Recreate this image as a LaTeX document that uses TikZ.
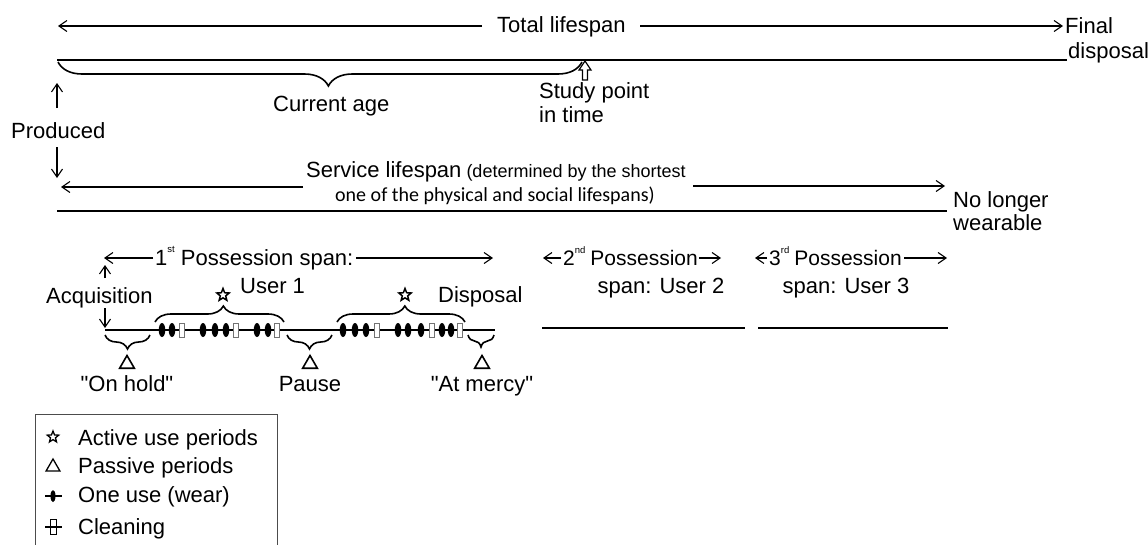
\documentclass[tikz,border=0pt]{standalone}
\usepackage{fontspec}
\setmainfont{Liberation Sans}[Ligatures=TeXOff]
\newfontfamily\carl{Carlito}
\usetikzlibrary{arrows.meta,decorations.pathreplacing,shapes.geometric}
\newcommand\myord[1]{\raisebox{0.55em}{\fontsize{9.5}{10}\selectfont #1}}
\begin{document}
\begin{tikzpicture}[x=1pt,y=-1pt,
  txt/.style={inner sep=0pt,anchor=base west,font=\fontsize{22}{25}\selectfont},
  ctxt/.style={inner sep=0pt,anchor=base,font=\fontsize{22}{25}\selectfont},
  arr/.style={line width=1.1pt,-{Straight Barb[length=8pt,width=11pt,line width=1.1pt]}},
  thickline/.style={line width=2.3pt},
  brc/.style={line width=1.6pt,decorate},
  starm/.style={star,star points=5,star point ratio=2.3,draw,line width=1.5pt,minimum size=13pt,inner sep=0pt},
  trim/.style={regular polygon,regular polygon sides=3,draw,line width=1.6pt,minimum size=17pt,inner sep=0pt},
  usem/.style={ellipse,fill=black,minimum width=6.5pt,minimum height=14pt,inner sep=0pt},
  cleanm/.style={rectangle,draw=black!55,fill=white,line width=0.9pt,minimum width=5pt,minimum height=14pt,inner sep=0pt}]
\useasboundingbox[fill=white] (0,0) rectangle (1148,544);

% ---------- Total lifespan ----------
\coordinate (tlL) at (58,26);
\coordinate (tlA) at (482,26);
\coordinate (tlB) at (640,26);
\coordinate (tlR) at (1063,26);
\draw[arr] (tlA) -- (tlL);
\draw[arr] (tlB) -- (tlR);
\node[txt] (total) at (497,32) {Total lifespan};
\node[txt] (final) at (1065,33) {Final};
\node[txt] (fdisp) at (1068,58) {disposal};

\coordinate (m0) at (57,60);
\coordinate (m1) at (1067,60);
\draw[thickline] (m0) -- (m1);

\coordinate (bA) at (58,62);
\coordinate (bB) at (582,62);
\draw[brc,decoration={brace,mirror,amplitude=24pt,aspect=0.516}] (bA) -- (bB);
\node[txt] (current) at (273,111) {Current age};

\draw[line width=1.2pt,fill=white] (585,61) -- (591,70) -- (587.5,70) -- (587.5,80) -- (582.5,80) -- (582.5,70) -- (579,70) -- cycle;
\node[txt] (study) at (539,98) {Study point};
\node[txt] (intime) at (539,122) {in time};

% ---------- Produced ----------
\node[txt] (produced) at (11,138) {Produced};
\coordinate (pu0) at (57,108);
\coordinate (pu1) at (57,83);
\coordinate (pd0) at (57,147);
\coordinate (pd1) at (57,178);
\draw[arr] (pu0) -- (pu1);
\draw[arr] (pd0) -- (pd1);

% ---------- Service lifespan ----------
\node[txt] (service) at (306,177) {Service lifespan{\fontsize{18}{20}\selectfont{} (determined by the shortest}};
\node[txt,font=\carl\fontsize{20}{22}\selectfont] (oneof) at (335,201) {one of the physical and social lifespans)};
\coordinate (sA) at (303,187);
\coordinate (sL) at (61,187);
\coordinate (sB) at (693,186);
\coordinate (sR) at (945,186);
\draw[arr] (sA) -- (sL);
\draw[arr] (sB) -- (sR);
\coordinate (s0) at (57,211);
\coordinate (s1) at (947,211);
\draw[thickline] (s0) -- (s1);
\node[txt] (nolonger) at (953,207) {No longer};
\node[txt] (wearable) at (953,230) {wearable};

% ---------- 1st possession ----------
\node[txt] (poss1) at (155,265) {1\myord{st} Possession span:};
\coordinate (p1A) at (153,258);
\coordinate (p1L) at (104,258);
\coordinate (p1B) at (356,258);
\coordinate (p1R) at (493,258);
\draw[arr] (p1A) -- (p1L);
\draw[arr] (p1B) -- (p1R);

\node[txt] (acq) at (46,303) {Acquisition};
\coordinate (aq0) at (105,278);
\coordinate (aq1) at (105,265);
\coordinate (aq2) at (105,308);
\coordinate (aq3) at (105,328);
\draw[arr] (aq0) -- (aq1);
\draw[arr] (aq2) -- (aq3);

\node[txt] (user1) at (240,293) {User 1};
\node[txt] (disp) at (438,302) {Disposal};

\coordinate (l0) at (105,330);
\coordinate (l1) at (495,330);
\draw[thickline] (l0) -- (l1);

% markers
\foreach \x [count=\i] in {162,172,203,215,226,257,268,343,355,366,398,408,421,442,451}
  \node[usem] (u\i) at (\x,330) {};
\foreach \x [count=\i] in {182,236,277,377,432,460}
  \node[cleanm] (c\i) at (\x,330) {};

% active braces + stars
\coordinate (a1A) at (155,322);
\coordinate (a1B) at (284,322);
\draw[brc,decoration={brace,amplitude=16pt,aspect=0.53}] (a1A) -- (a1B);
\node[starm] (st1) at (223,295) {};
\coordinate (a2A) at (337,322);
\coordinate (a2B) at (465,322);
\draw[brc,decoration={brace,amplitude=16pt,aspect=0.53}] (a2A) -- (a2B);
\node[starm] (st2) at (405,295) {};

% passive braces + triangles
\coordinate (h1A) at (105,335);
\coordinate (h1B) at (150,335);
\draw[brc,decoration={brace,mirror,amplitude=14pt,aspect=0.5}] (h1A) -- (h1B);
\node[trim] (tr1) at (127,364) {};
\node[ctxt] (onhold) at (127,391) {"On hold"};
\coordinate (h2A) at (287,335);
\coordinate (h2B) at (332,335);
\draw[brc,decoration={brace,mirror,amplitude=14pt,aspect=0.5}] (h2A) -- (h2B);
\node[trim] (tr2) at (310,364) {};
\node[ctxt] (pause) at (310,391) {Pause};
\coordinate (h3A) at (468,335);
\coordinate (h3B) at (494,335);
\draw[brc,decoration={brace,mirror,amplitude=12pt,aspect=0.5}] (h3A) -- (h3B);
\node[trim] (tr3) at (482,364) {};
\node[ctxt] (atmercy) at (482,391) {"At mercy"};

% ---------- 2nd and 3rd possession ----------
\node[txt,font=\fontsize{21}{24}\selectfont] (poss2) at (563,265) {2\myord{nd}\hspace{5pt}Possession};
\coordinate (p2A) at (561,258);
\coordinate (p2L) at (543,258);
\coordinate (p2B) at (699,258);
\coordinate (p2R) at (721,258);
\draw[arr] (p2A) -- (p2L);
\draw[arr] (p2B) -- (p2R);
\node[ctxt] (span2) at (661,293) {span: User 2};
\coordinate (q0) at (542,328);
\coordinate (q1) at (745,328);
\draw[thickline] (q0) -- (q1);

\node[txt,font=\fontsize{21}{24}\selectfont] (poss3) at (769,265) {3\myord{rd}\hspace{5pt}Possession};
\coordinate (p3A) at (767,258);
\coordinate (p3L) at (755,258);
\coordinate (p3B) at (904,258);
\coordinate (p3R) at (947,258);
\draw[arr] (p3A) -- (p3L);
\draw[arr] (p3B) -- (p3R);
\node[ctxt] (span3) at (846,293) {span: User 3};
\coordinate (r0) at (758,328);
\coordinate (r1) at (948,328);
\draw[thickline] (r0) -- (r1);

% ---------- Legend ----------
\draw[line width=1pt,draw=black!70] (35,546) -- (35,414) -- (277,414) -- (277,546);
\node[starm,minimum size=12pt,line width=1.3pt] (lst) at (53,437) {};
\node[txt] (lg1) at (78,445) {Active use periods};
\node[trim,minimum size=16pt,line width=1.3pt] (ltr) at (53,467) {};
\node[txt] (lg2) at (78,473) {Passive periods};
\coordinate (lu0) at (45,496);
\coordinate (lu1) at (62,496);
\draw[line width=1.2pt] (lu0) -- (lu1);
\node[usem,minimum width=5pt,minimum height=12pt] (lue) at (53,496) {};
\node[txt] (lg3) at (78,502) {One use (wear)};
\coordinate (lc0) at (45,527);
\coordinate (lc1) at (62,527);
\node[rectangle,draw=black,line width=0.9pt,minimum width=6pt,minimum height=15pt,inner sep=0pt] (lcr) at (53,527) {};
\draw[line width=1.1pt] (lc0) -- (lc1);
\node[txt] (lg4) at (78,534) {Cleaning};
\end{tikzpicture}
\end{document}
